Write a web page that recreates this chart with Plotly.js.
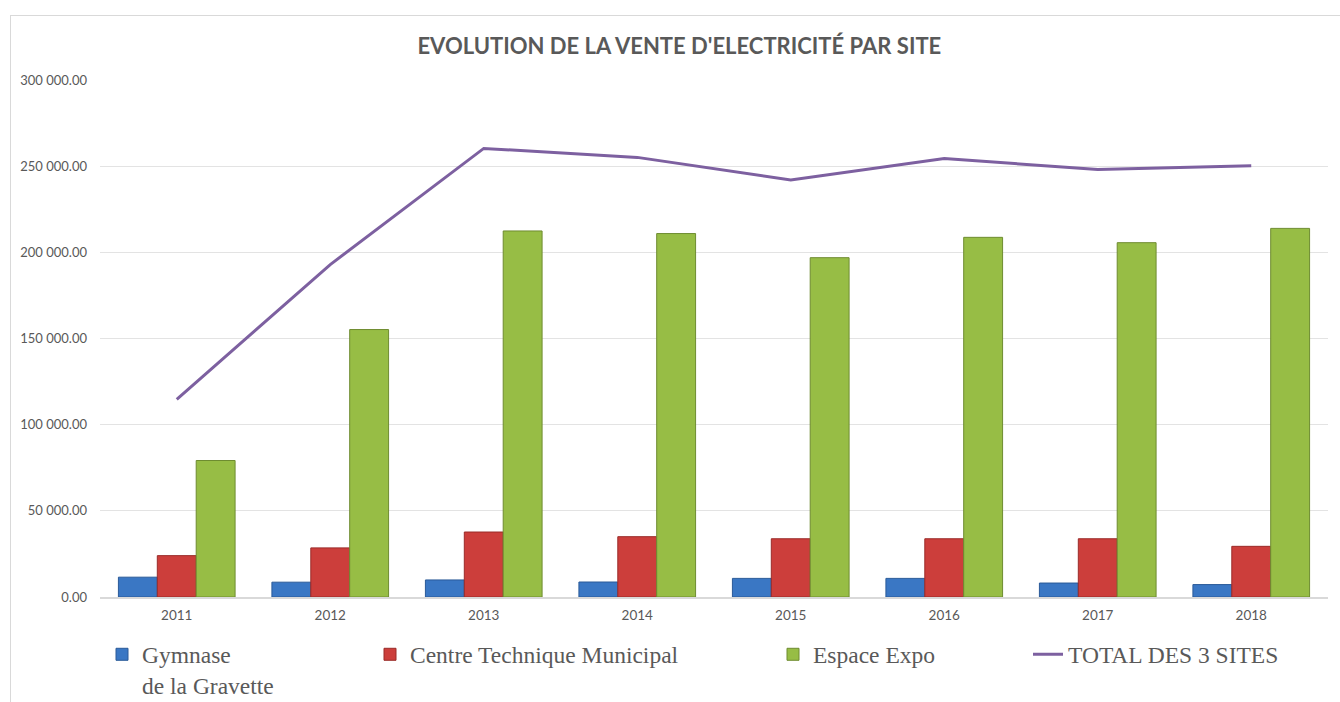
<!DOCTYPE html>
<html>
<head>
<meta charset="utf-8">
<script src="https://cdn.plot.ly/plotly-3.0.1.min.js"></script>
<style>
  html, body { margin: 0; padding: 0; background: #fff; }
  #wrap { position: relative; width: 1340px; height: 702px; overflow: hidden; }
  #chart { position: absolute; left: 0; top: 0; width: 1340px; height: 702px; }
  #frame { position: absolute; left: 10px; top: 15px; width: 1340px; height: 700px;
           border: 1px solid #d9d9d9; pointer-events: none; }
</style>
</head>
<body>
<div id="wrap">
  <div id="chart"></div>
  <div id="frame"></div>
</div>
<script>
const years = ['2011', '2012', '2013', '2014', '2015', '2016', '2017', '2018'];
const gymnase = [11500, 8600, 9900, 8700, 10800, 10800, 8100, 7200];
const centreTechnique = [24000, 28500, 37700, 35000, 33800, 33800, 33800, 29400];
const espaceExpo = [79200, 155200, 212400, 210900, 196900, 208700, 205600, 213900];
const total = [114700, 192900, 260300, 255100, 242000, 254500, 248000, 250300];
const seriesNames = ['Gymnase<br>de la Gravette', 'Centre Technique Municipal', 'Espace Expo', 'TOTAL DES 3 SITES'];
const yTicks = [0, 50000, 100000, 150000, 200000, 250000, 300000];

const sansFont = 'Lato, Carlito, "Open Sans", sans-serif';
const serifFont = '"Liberation Serif", "DejaVu Serif", serif';

const traces = [
  { type: 'bar', x: years, y: gymnase, name: seriesNames[0], legend: 'legend',
    marker: { color: '#3a77c4', line: { color: '#2a5a98', width: 1 } }, hoverinfo: 'y' },
  { type: 'bar', x: years, y: centreTechnique, name: seriesNames[1], legend: 'legend2',
    marker: { color: '#cc3e3b', line: { color: '#9a2b28', width: 1 } }, hoverinfo: 'y' },
  { type: 'bar', x: years, y: espaceExpo, name: seriesNames[2], legend: 'legend3',
    marker: { color: '#97bd45', line: { color: '#6e8c30', width: 1 } }, hoverinfo: 'y' },
  { type: 'scatter', mode: 'lines', x: years, y: total, name: seriesNames[3], legend: 'legend4',
    line: { color: '#7d60a0', width: 3 }, hoverinfo: 'y' }
];

const legendBase = {
  orientation: 'h', yanchor: 'top', y: -0.0687, xanchor: 'left', valign: 'top',
  font: { family: serifFont, size: 23.5, color: '#595959' }, bgcolor: 'rgba(0,0,0,0)',
  tracegroupgap: 0, itemwidth: 30
};

const layout = {
  width: 1340, height: 702,
  margin: { l: 100, r: 12, t: 80, b: 105, autoexpand: false },
  paper_bgcolor: '#ffffff', plot_bgcolor: '#ffffff',
  separators: '. ',
  title: { text: "EVOLUTION DE LA VENTE D'ELECTRICITÉ PAR SITE",
           xref: 'container', x: 0.507, xanchor: 'center',
           yref: 'container', y: 1 - 46 / 702, yanchor: 'middle',
           font: { family: sansFont, size: 22, color: '#595959', weight: 'bold' } },
  barmode: 'group', bargap: 0.24, bargroupgap: 0,
  xaxis: { type: 'category', showgrid: false, showline: true, linecolor: '#d9d9d9', linewidth: 1.5,
           ticks: '', tickfont: { family: sansFont, size: 13.5, color: '#595959' }, ticklabelstandoff: 5 },
  yaxis: { range: [0, 300000], tickvals: yTicks, tickformat: ',.2f', showgrid: true, gridcolor: '#e3e3e3',
           gridwidth: 1, zeroline: false, showline: false, ticks: '',
           tickfont: { family: sansFont, size: 13, color: '#595959' }, ticklabelstandoff: 12 },
  showlegend: true,
  legend: Object.assign({}, legendBase, { x: (102 - 100) / 1228 }),
  legend2: Object.assign({}, legendBase, { x: (370 - 100) / 1228 }),
  legend3: Object.assign({}, legendBase, { x: (773 - 100) / 1228 }),
  legend4: Object.assign({}, legendBase, { x: (1028 - 100) / 1228 })
};

Plotly.newPlot('chart', traces, layout, { displayModeBar: false, staticPlot: true });
</script>
</body>
</html>
